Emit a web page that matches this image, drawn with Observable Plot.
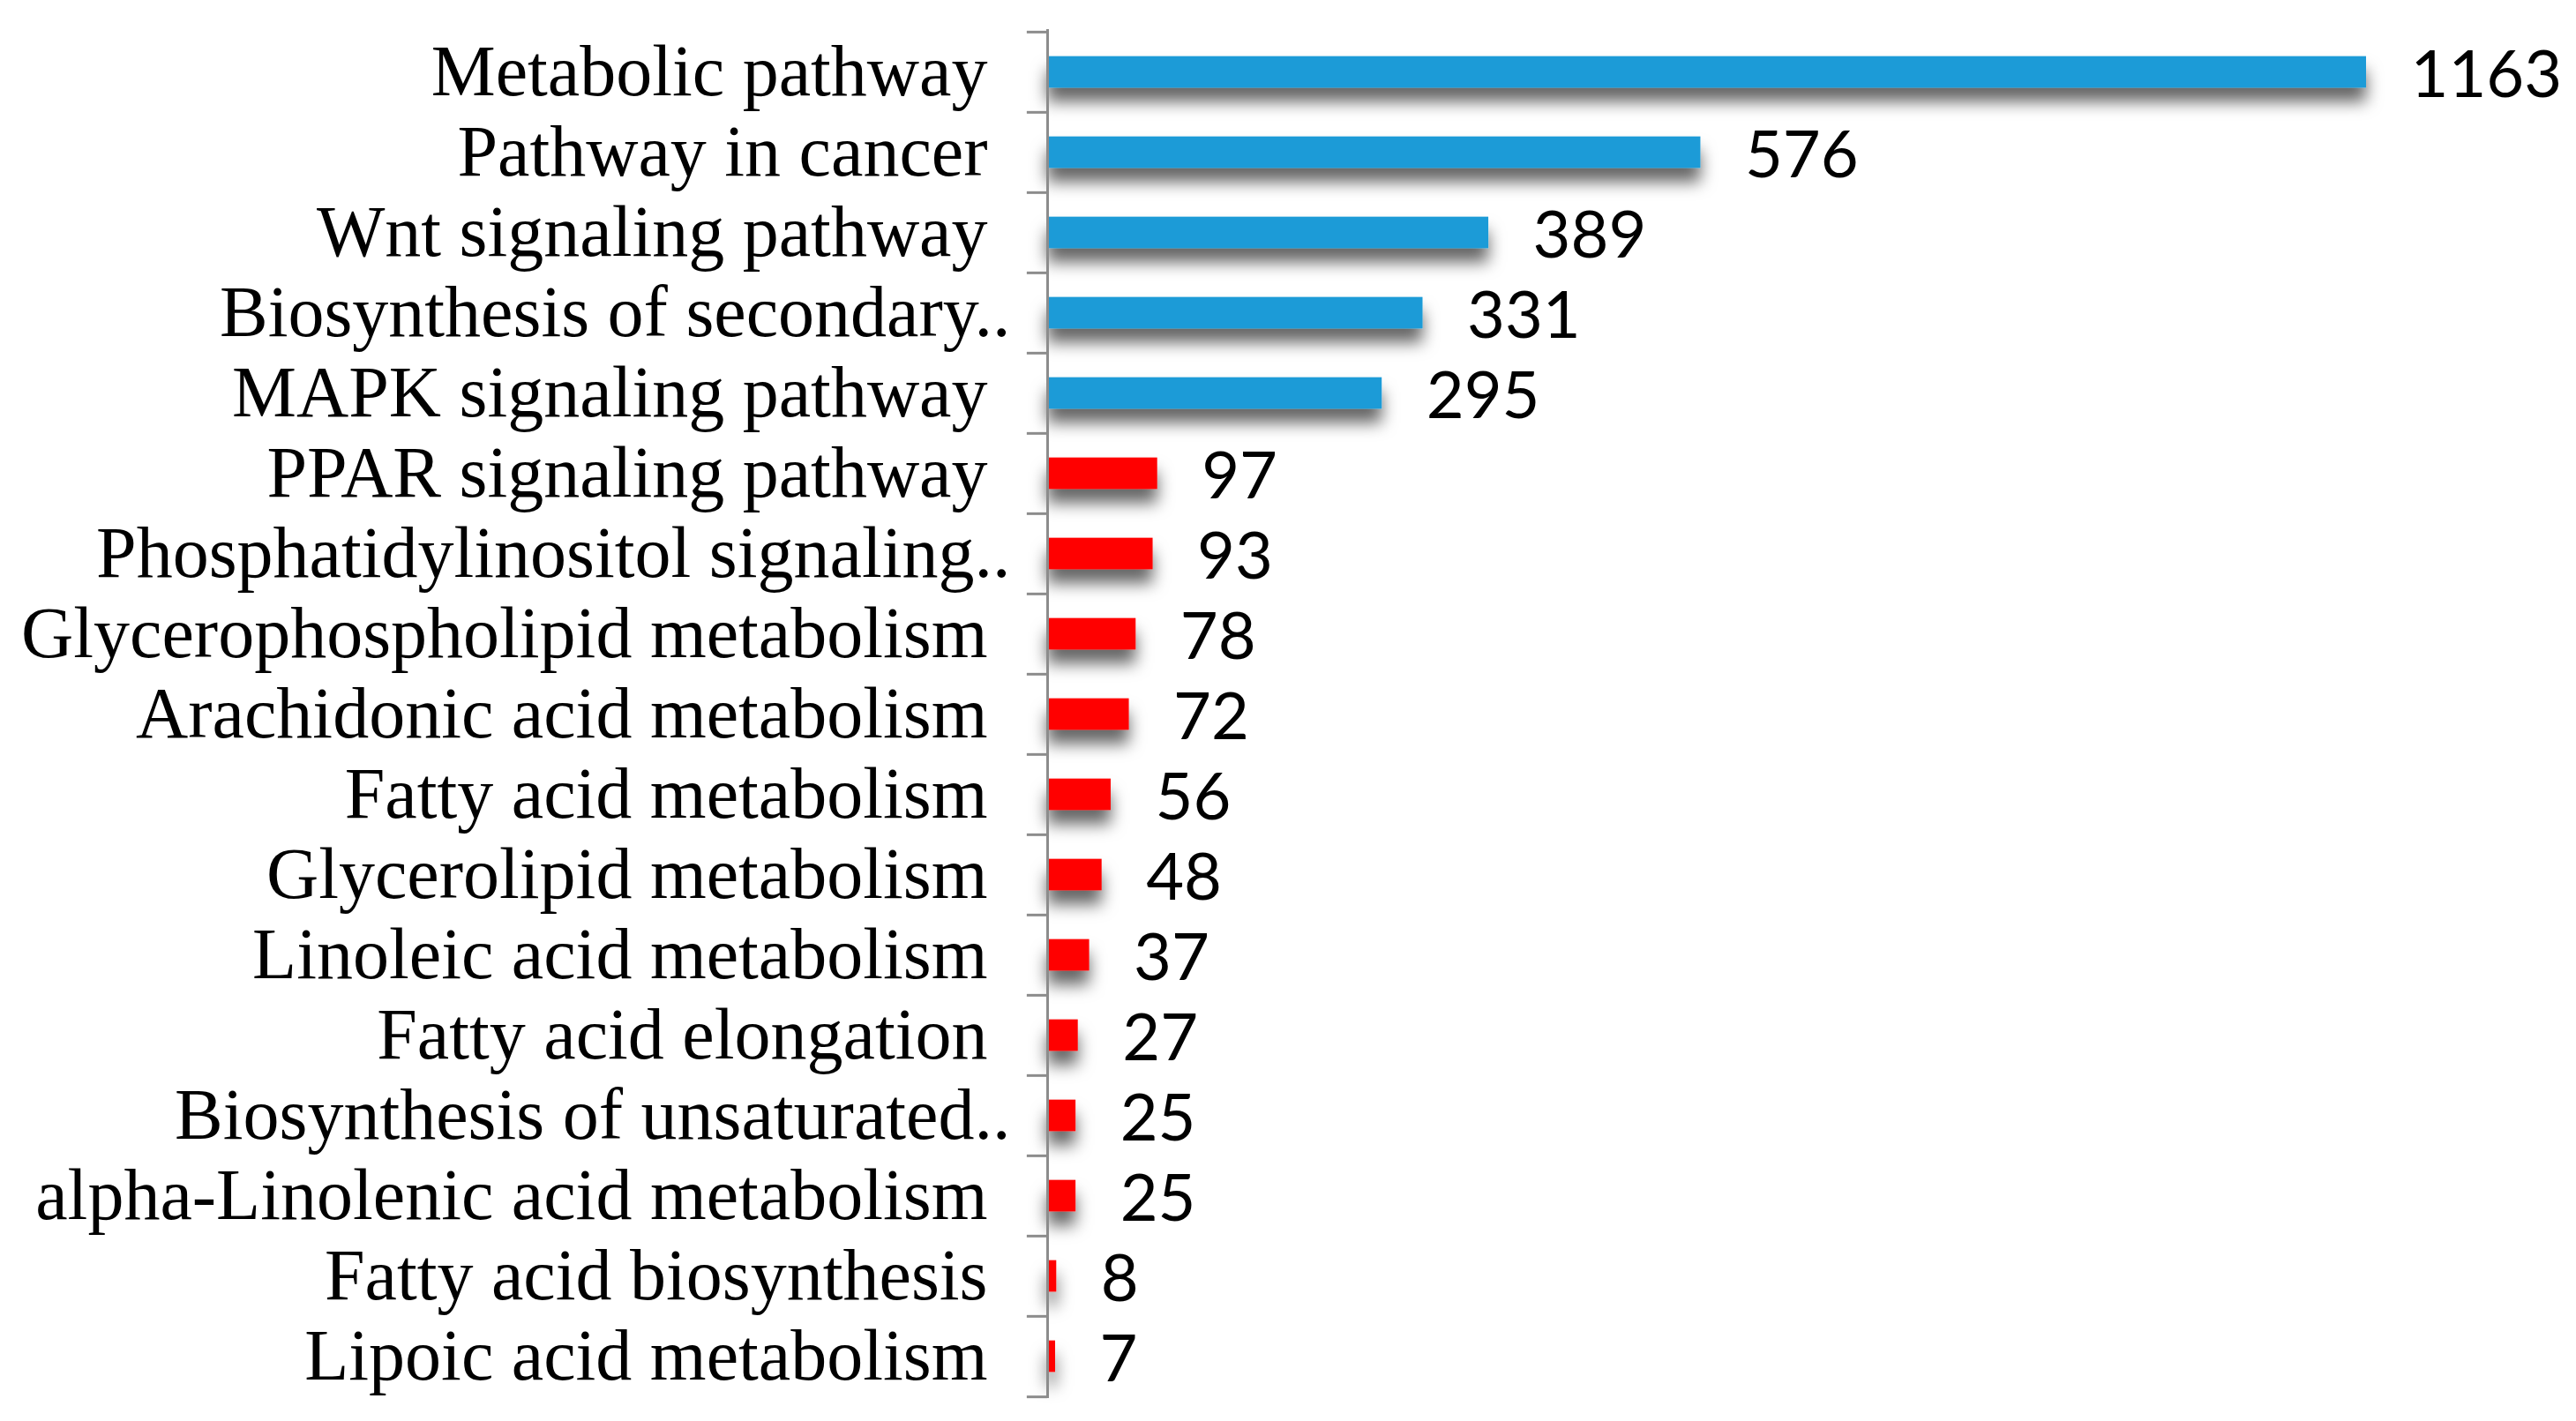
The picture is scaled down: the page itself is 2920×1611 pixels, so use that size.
<!DOCTYPE html>
<html>
<head>
<meta charset="utf-8">
<script src="https://cdn.jsdelivr.net/npm/d3@7"></script>
<script src="https://cdn.jsdelivr.net/npm/@observablehq/plot@0.6"></script>
<style>
  html, body { margin: 0; padding: 0; background: #fff; }
</style>
</head>
<body>
<div id="chart"></div>
<script>
const categories = [
  "Metabolic pathway",
  "Pathway in cancer",
  "Wnt signaling pathway",
  "Biosynthesis of secondary..",
  "MAPK signaling pathway",
  "PPAR signaling pathway",
  "Phosphatidylinositol signaling..",
  "Glycerophospholipid metabolism",
  "Arachidonic acid metabolism",
  "Fatty acid metabolism",
  "Glycerolipid metabolism",
  "Linoleic acid metabolism",
  "Fatty acid elongation",
  "Biosynthesis of unsaturated..",
  "alpha-Linolenic acid metabolism",
  "Fatty acid biosynthesis",
  "Lipoic acid metabolism"
];
const values = [1163, 576, 389, 331, 295, 97, 93, 78, 72, 56, 48, 37, 27, 25, 25, 8, 7];
const groups = ["top","top","top","top","top","lipid","lipid","lipid","lipid","lipid","lipid","lipid","lipid","lipid","lipid","lipid","lipid"];
const groupDomain = ["top", "lipid"];
const groupColors = ["#1E9BD7", "#FF0000"];

const data = categories.map((c, i) => ({category: c, value: values[i], group: groups[i]}));

const W = 2920, H = 1611;
const mt = 33, mb = 26, ml = 1187, mr = 238;
const step = (H - mt - mb) / categories.length;
const barH = 36;
const inset = (step - barH) / 2;
const last = categories[categories.length - 1];
const fullLabels = categories.filter(c => !c.endsWith(".."));
const cutLabels = categories.filter(c => c.endsWith(".."));
const labelFont = {fontFamily: "Liberation Serif", fontSize: 82, fill: "#000", tickSize: 0};

const chart = Plot.plot({
  width: W,
  height: H,
  marginTop: mt,
  marginBottom: mb,
  marginLeft: ml,
  marginRight: mr,
  style: {background: "#fff", fontFamily: "Liberation Serif", fontSize: "82px", color: "#000"},
  x: {domain: [0, 1163], axis: null},
  y: {domain: categories, padding: 0, label: null, axis: null},
  color: {domain: groupDomain, range: groupColors},
  marks: [
    Plot.barX(data, {y: "category", x: "value", fill: "group", insetTop: inset, insetBottom: inset}),
    Plot.ruleX([0], {stroke: "#8c8c8c", strokeWidth: 3}),
    Plot.ruleY(categories, {y: d => d, dy: -step / 2, x1: -18, x2: 0, stroke: "#8c8c8c", strokeWidth: 3}),
    Plot.ruleY([last], {y: d => d, dy: step / 2, x1: -18, x2: 0, stroke: "#8c8c8c", strokeWidth: 3}),
    Plot.axisY({...labelFont, ticks: fullLabels, tickPadding: 68}),
    Plot.axisY({...labelFont, ticks: cutLabels, tickPadding: 68, dx: 26}),
    Plot.text(data, {y: "category", x: "value", text: d => String(d.value), textAnchor: "start", dx: 50, dy: 4,
      fontFamily: "Lato", fontSize: 74, fill: "#000"})
  ]
});

document.getElementById("chart").appendChild(chart);

// soft drop shadow under the bars, as in the reference
const svg = d3.select(chart);
const defs = svg.insert("defs", ":first-child");
const f = defs.append("filter").attr("id", "barshadow")
  .attr("x", "-5%").attr("y", "-10%").attr("width", "115%").attr("height", "125%");
f.append("feDropShadow").attr("dx", 0).attr("dy", 16).attr("stdDeviation", 9)
  .attr("flood-color", "#000").attr("flood-opacity", 0.6);
svg.select('g[aria-label="bar"]').attr("filter", "url(#barshadow)");
</script>
</body>
</html>
